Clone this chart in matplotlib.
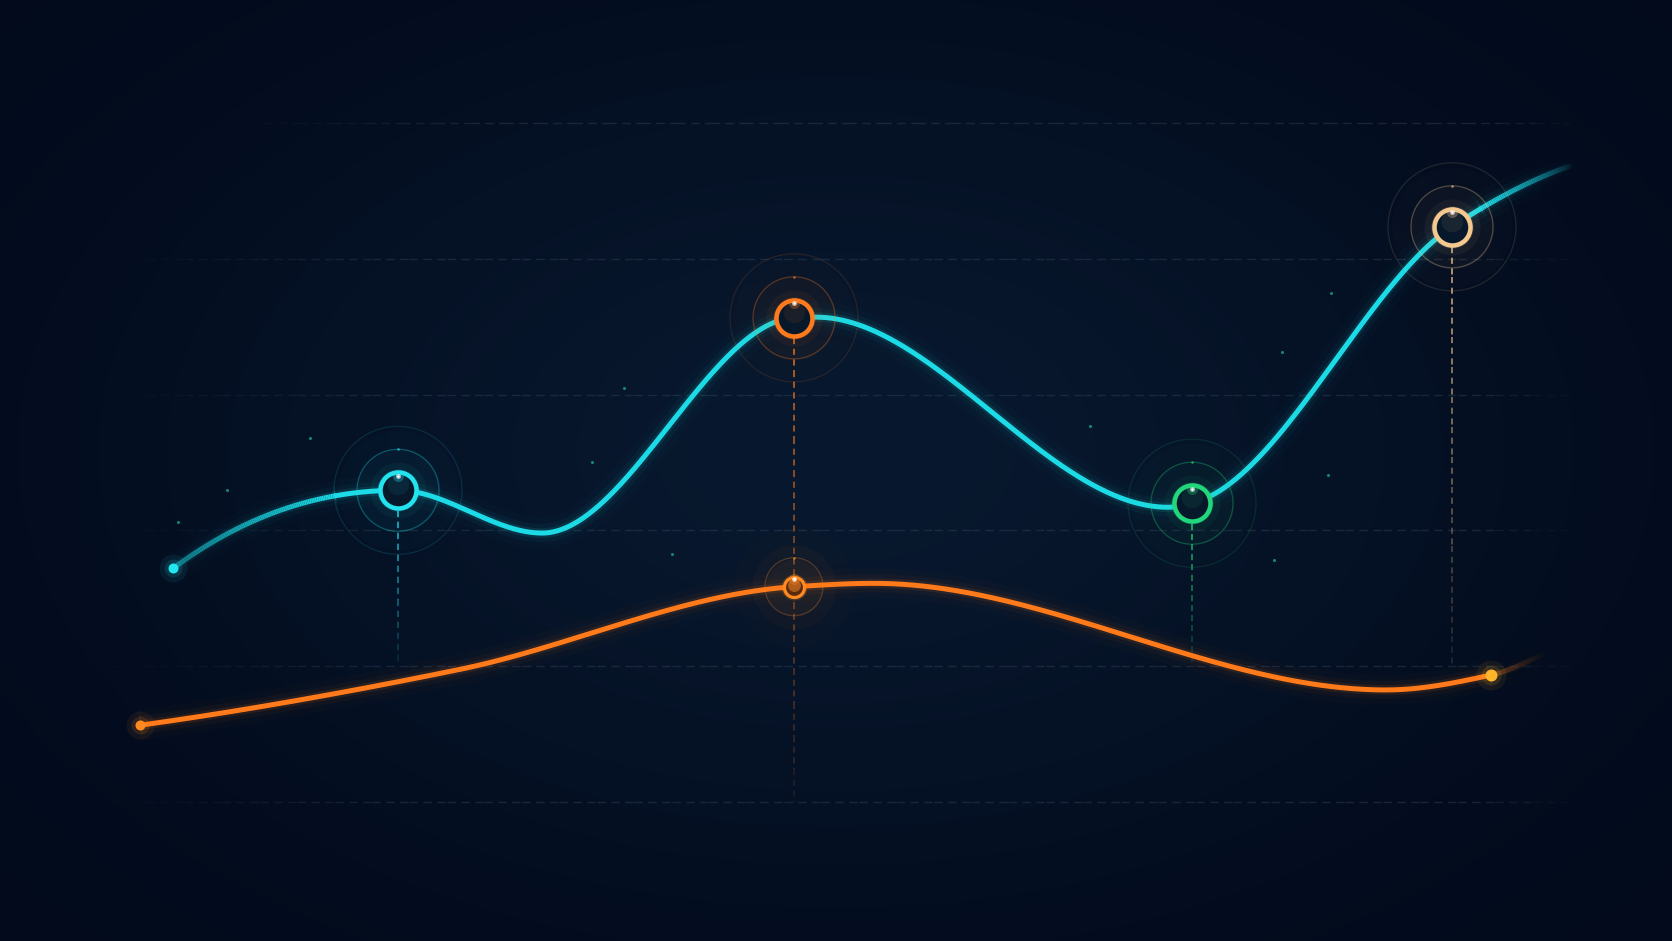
import numpy as np
import matplotlib
matplotlib.use("Agg")
import matplotlib.pyplot as plt
from matplotlib.collections import LineCollection
from matplotlib.transforms import offset_copy
from matplotlib.colors import to_rgba

# series values (x in time units, y in value units)
cyan_x = [0.33, 2.58, 4.02, 6.54, 6.76, 10.28, 10.52, 13.12, 14.33]
cyan_y = [34.4, 45.9, 39.6, 71.3, 71.4, 43.4, 44.0, 84.7, 93.8]
orange_x = [0.0, 3.19, 6.54, 7.34, 12.46, 13.51, 14.06]
orange_y = [11.3, 19.5, 31.7, 32.2, 16.5, 18.7, 22.0]

# highlighted points on the cyan series: index and colour
cyan_marks = [1, 3, 6, 7]
cyan_mark_colors = ["#22e3ee", "#ff7a1c", "#22d67c", "#f4c98f"]
orange_mark = 2

grid_y = [0, 20, 40, 60, 80, 100]

# faint particles
dots_x = [0.87, 0.38, 1.70, 4.84, 4.52, 5.32, 9.50, 11.42, 11.91, 11.88, 11.34]
dots_y = [45.9, 41.2, 53.6, 61.0, 50.1, 36.5, 55.3, 66.3, 74.9, 48.2, 35.7]

BG_EDGE = np.array([2, 10, 27]) / 255
BG_MID = np.array([8, 24, 46]) / 255
PT = 0.72  # points per pixel at dpi 100

fig = plt.figure(figsize=(16.72, 9.41), dpi=100)
ax = fig.add_axes([0, 0, 1, 1])
ax.set_xlim(-1.4, 15.32)
ax.set_ylim(-20.47, 118.1)
ax.axis("off")

# background vignette (smooth falloff)
gx, gy = np.meshgrid(np.linspace(0, 1, 400), np.linspace(0, 1, 225))
r2 = ((gx - 0.5) / 0.5) ** 2 + ((gy - 0.52) / 0.55) ** 2
w = np.exp(-1.6 * r2)
bg = BG_EDGE[None, None, :] * (1 - w[..., None]) + BG_MID[None, None, :] * w[..., None]
ax.imshow(bg, extent=[-1.4, 15.32, -20.47, 118.1], aspect="auto", zorder=0,
          origin="lower", interpolation="bilinear")


def pchip(x, y, n=800):
    x = np.asarray(x, float)
    y = np.asarray(y, float)
    h = np.diff(x)
    d = np.diff(y) / h
    m = np.zeros_like(y)
    for k in range(1, len(x) - 1):
        if d[k - 1] * d[k] > 0:
            w1 = 2 * h[k] + h[k - 1]
            w2 = h[k] + 2 * h[k - 1]
            m[k] = (w1 + w2) / (w1 / d[k - 1] + w2 / d[k])

    def end(h0, h1, d0, d1):
        s = ((2 * h0 + h1) * d0 - h0 * d1) / (h0 + h1)
        if np.sign(s) != np.sign(d0):
            s = 0
        elif np.sign(d0) != np.sign(d1) and abs(s) > abs(3 * d0):
            s = 3 * d0
        return s

    m[0] = end(h[0], h[1], d[0], d[1])
    m[-1] = end(h[-1], h[-2], d[-1], d[-2])
    xs = np.linspace(x[0], x[-1], n)
    i = np.clip(np.searchsorted(x, xs) - 1, 0, len(h) - 1)
    t = (xs - x[i]) / h[i]
    h00 = 2 * t**3 - 3 * t**2 + 1
    h10 = t**3 - 2 * t**2 + t
    h01 = -2 * t**3 + 3 * t**2
    h11 = t**3 - t**2
    ys = h00 * y[i] + h10 * h[i] * m[i] + h01 * y[i + 1] + h11 * h[i] * m[i + 1]
    return xs, ys


LAYERS = [(22, 0.02), (13, 0.045), (7, 0.1), (3.6, 1.0)]


def glow_line(xs, ys, color, alpha, z=3):
    # solid part where alpha is full, faded ends as segment collections
    full = alpha >= 0.999
    idx = np.where(full)[0]
    a0, a1 = idx[0], idx[-1]
    for lw, al in LAYERS:
        ax.plot(xs[a0:a1 + 1], ys[a0:a1 + 1], color=color, alpha=al, lw=lw,
                solid_capstyle="butt", solid_joinstyle="round", zorder=z)
    for sl in (slice(0, a0 + 2), slice(a1 - 1, len(xs))):
        px, py, pa = xs[sl], ys[sl], alpha[sl]
        if len(px) < 2:
            continue
        pts = np.column_stack([px, py]).reshape(-1, 1, 2)
        segs = np.concatenate([pts[:-1], pts[1:]], axis=1)
        a = (pa[:-1] + pa[1:]) / 2
        for lw, al in LAYERS:
            cols = np.tile(np.array(to_rgba(color)), (len(segs), 1))
            cols[:, 3] = a * al
            ax.add_collection(LineCollection(segs, colors=cols, linewidths=lw,
                                             capstyle="butt", zorder=z))


def gradient_vline(x, y0, y1, color, a0, a1, z=2, n=14):
    ys = np.linspace(y0, y1, n + 1)
    for k in range(n):
        a = a0 + (a1 - a0) * k / (n - 1)
        ax.plot([x, x], [ys[k], ys[k + 1]], color=color, alpha=a, lw=1.1,
                linestyle=(0, (4, 3)), zorder=z)


# gridlines, fading in at the left
for gyv in grid_y:
    left = -0.3 if gyv < 90 else 0.9
    xs = np.linspace(left, 14.3, 40)
    for k in range(len(xs) - 1):
        f = min(1.0, (k + 1) / 8) * min(1.0, (len(xs) - 1 - k) / 3)
        ax.plot(xs[k:k + 2], [gyv, gyv], color="#4a5a70", alpha=0.3 * f, lw=1.0,
                linestyle=(0, (6, 4)), zorder=1)

# particles
ax.scatter(dots_x, dots_y, s=5, color="#2ad8cc", alpha=0.55, linewidths=0, zorder=2)

# smooth series
cx, cy = pchip(cyan_x, cyan_y)
ca = np.clip(0.45 + 0.55 * (cx - cyan_x[0]) / 1.6, 0, 1)
ca *= np.clip((cyan_x[-1] - cx) / 0.9, 0, 1) ** 0.8
glow_line(cx, cy, "#1cdbe6", ca)

ox, oy = pchip(orange_x, orange_y)
oa = np.where(ox <= orange_x[-2], 1.0,
              0.35 * (1 - (ox - orange_x[-2]) / (orange_x[-1] - orange_x[-2])))
glow_line(ox, oy, "#ff7a1a", oa)


def ring(x, y, color, r_px, lw_px, halos, fill="#08182b", inner=None, z=6):
    for rr, al in [(60, 0.015), (42, 0.03), (28, 0.05)]:
        ax.scatter(x, y, s=(2 * rr * PT) ** 2, color=color, alpha=al, linewidths=0, zorder=z)
    for rr, al in halos:
        ax.scatter(x, y, s=(2 * rr * PT) ** 2, facecolors="none", edgecolors=color,
                   linewidths=0.9, alpha=al, zorder=z)
    ax.scatter(x, y, s=(2 * (r_px + 3) * PT) ** 2, color=color, alpha=0.2, linewidths=0, zorder=z + 1)
    ax.scatter(x, y, s=(2 * r_px * PT) ** 2, facecolor=fill, edgecolor=color,
               linewidths=lw_px * PT, zorder=z + 2)
    # inner sheen
    if inner is not None:
        tr = offset_copy(ax.transData, fig=fig, x=0, y=r_px * 0.2 * PT, units="points")
        ax.scatter(x, y, s=(r_px * 1.3 * PT) ** 2, color=inner, alpha=0.8, linewidths=0,
                   transform=tr, zorder=z + 3)
    tr = offset_copy(ax.transData, fig=fig, x=0, y=r_px * 0.35 * PT, units="points")
    ax.scatter(x, y, s=(r_px * 1.2 * PT) ** 2, color=color, alpha=0.08, linewidths=0,
               transform=tr, zorder=z + 3)
    tr = offset_copy(ax.transData, fig=fig, x=0, y=r_px * 0.8 * PT, units="points")
    ax.scatter(x, y, s=(11 * PT) ** 2, color=color, alpha=0.3, linewidths=0, transform=tr, zorder=z + 3)
    ax.scatter(x, y, s=(5 * PT) ** 2, color="white", alpha=0.6, linewidths=0, transform=tr, zorder=z + 3)
    ax.scatter(x, y, s=(2.4 * PT) ** 2, color="white", alpha=0.95, linewidths=0, transform=tr, zorder=z + 3)
    if halos:
        tr = offset_copy(ax.transData, fig=fig, x=0, y=halos[0][0] * PT, units="points")
        ax.scatter(x, y, s=(2.5 * PT) ** 2, color=color, alpha=0.7, linewidths=0, transform=tr, zorder=z)


# drop lines
for i, c in zip(cyan_marks, cyan_mark_colors):
    bottom = 0 if c == "#ff7a1c" else grid_y[1]
    gradient_vline(cyan_x[i], cyan_y[i] - 3, bottom, c, 0.9, 0.15)

# cyan series markers
for i, c in zip(cyan_marks, cyan_mark_colors):
    ring(cyan_x[i], cyan_y[i], c, 18, 4.5, [(41, 0.3), (64, 0.13)])

# small orange marker
ring(orange_x[orange_mark], orange_y[orange_mark], "#ff8a20", 10, 3.2, [(29, 0.28)],
     fill="#5a2a0c", inner="#c0661e", z=9)

# end dots
for x, y, c, r_px in [(cyan_x[0], cyan_y[0], "#22e6f0", 5),
                      (orange_x[0], orange_y[0], "#ff8a22", 5),
                      (orange_x[-2], orange_y[-2], "#ffb52a", 6)]:
    ax.scatter(x, y, s=(2 * (r_px + 9) * PT) ** 2, color=c, alpha=0.07, linewidths=0, zorder=6)
    ax.scatter(x, y, s=(2 * (r_px + 4) * PT) ** 2, color=c, alpha=0.12, linewidths=0, zorder=6)
    ax.scatter(x, y, s=(2 * r_px * PT) ** 2, color=c, linewidths=0, zorder=7)

fig.savefig("out.png", dpi=100, facecolor="#020a1c")
